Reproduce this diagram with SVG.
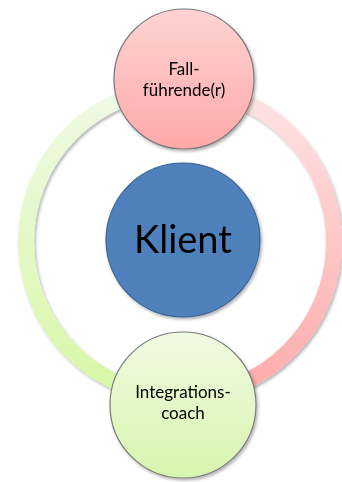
<svg xmlns="http://www.w3.org/2000/svg" width="342" height="482" viewBox="0 0 342 482">
<defs>
<linearGradient id="gGreenArc" x1="0" y1="88" x2="0" y2="396" gradientUnits="userSpaceOnUse">
<stop offset="0" stop-color="#f0f9e6"/>
<stop offset="1" stop-color="#d7f7a6"/>
</linearGradient>
<linearGradient id="gPinkArc" x1="0" y1="88" x2="0" y2="396" gradientUnits="userSpaceOnUse">
<stop offset="0" stop-color="#fde4e4"/>
<stop offset="1" stop-color="#ffaaaa"/>
</linearGradient>
<linearGradient id="gPink" x1="0" y1="0" x2="0" y2="1">
<stop offset="0" stop-color="#fdd3d3"/>
<stop offset="1" stop-color="#ffa9a9"/>
</linearGradient>
<linearGradient id="gGreen" x1="0" y1="0" x2="0" y2="1">
<stop offset="0" stop-color="#f1fae3"/>
<stop offset="1" stop-color="#d7f5ad"/>
</linearGradient>
<filter id="sh" x="-20%" y="-20%" width="140%" height="140%">
<feDropShadow dx="1.5" dy="2" stdDeviation="1.5" flood-color="#000" flood-opacity="0.3"/>
</filter>
</defs>
<style>
.arc{fill:none;stroke-width:16}
.node{stroke:#7a7a7a;stroke-width:1.2}
.t{font-family:Lato,"Liberation Sans",sans-serif;fill:#000;text-anchor:middle}
</style>
<g id="connectors" filter="url(#sh)">
<path class="arc" stroke="url(#gGreenArc)" d="M 180 88 A 154 154 0 0 0 180 396"/>
<path class="arc" stroke="url(#gPinkArc)" d="M 180 396 A 154 154 0 0 0 180 88"/>
</g>
<g id="node-fall" filter="url(#sh)">
<circle class="node" cx="184" cy="79" r="70" fill="url(#gPink)"/>
<text class="t" x="184" y="75" font-size="17">Fall-</text>
<text class="t" x="184" y="96" font-size="17">führende(r)</text>
</g>
<g id="node-klient" filter="url(#sh)">
<circle cx="183" cy="240" r="77" fill="#4f81bd" stroke="#3a6190" stroke-width="1.2"/>
<text class="t" x="183" y="253" font-size="38">Klient</text>
</g>
<g id="node-integration" filter="url(#sh)">
<circle class="node" cx="183" cy="405" r="73" fill="url(#gGreen)"/>
<text class="t" x="183" y="398" font-size="17">Integrations-</text>
<text class="t" x="183" y="419" font-size="17">coach</text>
</g>
</svg>
